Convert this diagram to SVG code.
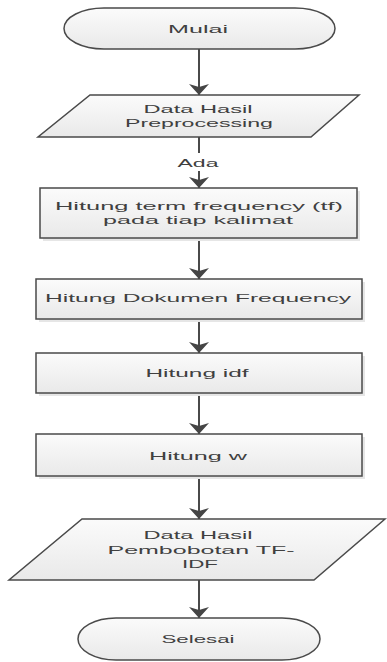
<svg xmlns="http://www.w3.org/2000/svg" width="387" height="662" viewBox="0 0 387 662">
<defs>
<linearGradient id="g" x1="0" y1="0" x2="0" y2="1">
<stop offset="0" stop-color="#fbfbfb"/>
<stop offset="1" stop-color="#e9e9e9"/>
</linearGradient>
<marker id="ah" markerUnits="userSpaceOnUse" markerWidth="11" markerHeight="20" viewBox="0 0 11 20" refX="11" refY="10" orient="auto">
<path d="M0,0 L11,10 L0,20 L3,10 z" fill="#454545"/>
</marker>
</defs>
<style>
.s{fill:url(#g);stroke:#4a4a4a;stroke-width:1.5}
.sh{fill:#e6e6e6;stroke:none}
.t{font-family:"Liberation Sans","Open Sans",sans-serif;font-size:11.5px;fill:#404040;text-anchor:middle}
.c{stroke:#4a4a4a;stroke-width:2;fill:none}
</style>
<rect width="387" height="662" fill="#ffffff"/>
<g id="connectors">
<line class="c" x1="199" y1="49" x2="199" y2="95" marker-end="url(#ah)"/>
<line class="c" x1="199" y1="137" x2="199" y2="153"/>
<text class="t" x="198" y="167" textLength="41" lengthAdjust="spacingAndGlyphs">Ada</text>
<line class="c" x1="199" y1="171" x2="199" y2="188" marker-end="url(#ah)"/>
<line class="c" x1="199" y1="238" x2="199" y2="279" marker-end="url(#ah)"/>
<line class="c" x1="199" y1="319" x2="199" y2="353" marker-end="url(#ah)"/>
<line class="c" x1="199" y1="393" x2="199" y2="434" marker-end="url(#ah)"/>
<line class="c" x1="199" y1="476" x2="199" y2="519" marker-end="url(#ah)"/>
<line class="c" x1="199" y1="580" x2="199" y2="618" marker-end="url(#ah)"/>
</g>
<g id="mulai">
<rect class="s" x="64" y="8" width="271" height="41" rx="40" ry="20.5"/>
<text class="t" x="198" y="33" textLength="60" lengthAdjust="spacingAndGlyphs">Mulai</text>
</g>
<g id="data-preprocessing">
<polygon class="s" points="90,95 359,95 311,137 38,137"/>
<text class="t" x="198" y="113" textLength="109" lengthAdjust="spacingAndGlyphs">Data Hasil</text>
<text class="t" x="199" y="127" textLength="148" lengthAdjust="spacingAndGlyphs">Preprocessing</text>
</g>
<g id="hitung-tf">
<rect class="sh" x="43" y="191" width="317" height="50"/>
<rect class="s" x="40" y="188" width="317" height="50"/>
<text class="t" x="199" y="210" textLength="288" lengthAdjust="spacingAndGlyphs">Hitung term frequency (tf)</text>
<text class="t" x="198" y="224" textLength="190" lengthAdjust="spacingAndGlyphs">pada tiap kalimat</text>
</g>
<g id="hitung-df">
<rect class="sh" x="39" y="282" width="326" height="40"/>
<rect class="s" x="36" y="279" width="326" height="40"/>
<text class="t" x="198" y="302" textLength="306" lengthAdjust="spacingAndGlyphs">Hitung Dokumen Frequency</text>
</g>
<g id="hitung-idf">
<rect class="sh" x="39" y="356" width="326" height="40"/>
<rect class="s" x="36" y="353" width="326" height="40"/>
<text class="t" x="197" y="377" textLength="103" lengthAdjust="spacingAndGlyphs">Hitung idf</text>
</g>
<g id="hitung-w">
<rect class="sh" x="39" y="437" width="326" height="42"/>
<rect class="s" x="36" y="434" width="326" height="42"/>
<text class="t" x="198" y="460" textLength="98" lengthAdjust="spacingAndGlyphs">Hitung w</text>
</g>
<g id="data-pembobotan">
<polygon class="s" points="82,519 385,519 314,580 9,580"/>
<text class="t" x="198" y="539" textLength="109" lengthAdjust="spacingAndGlyphs">Data Hasil</text>
<text class="t" x="201" y="554" textLength="187" lengthAdjust="spacingAndGlyphs">Pembobotan TF-</text>
<text class="t" x="200" y="568" textLength="36" lengthAdjust="spacingAndGlyphs">IDF</text>
</g>
<g id="selesai">
<rect class="s" x="78" y="618" width="242" height="42" rx="38" ry="21"/>
<text class="t" x="198" y="643" textLength="73" lengthAdjust="spacingAndGlyphs">Selesai</text>
</g>
</svg>
